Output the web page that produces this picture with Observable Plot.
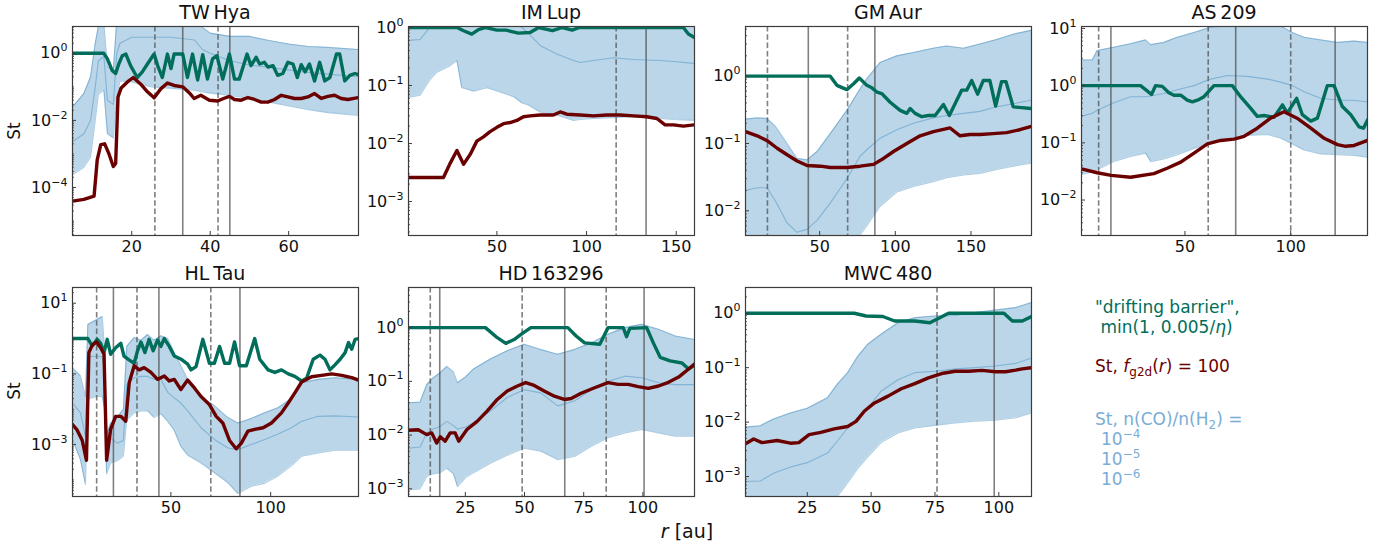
<!DOCTYPE html>
<html><head><meta charset="utf-8">
<script src="https://cdn.jsdelivr.net/npm/d3@7"></script>
<script src="https://cdn.jsdelivr.net/npm/@observablehq/plot@0.6"></script>
<style>
html,body{margin:0;padding:0;background:#fff;}
#root{position:relative;width:1389px;height:549px;overflow:hidden;background:#fff;font-family:"DejaVu Sans",sans-serif;}
</style></head><body><div id="root"></div>
<script>
// ---------- names ----------
const diskNames = ["TW\u2009Hya", "IM\u2009Lup", "GM\u2009Aur", "AS\u2009209", "HL\u2009Tau", "HD\u2009163296", "MWC\u2009480"];

// ---------- TW Hya ----------
const twhyaXDomain = [4.9, 77.8];
const twhyaYDomain = [3.7e-6, 6.3];
const twhyaXTicks = [20, 40, 60];
const twhyaYTicks = [1e-4, 1e-2, 1];
const twhyaDashed = [25.9, 42];
const twhyaSolid = [33, 45];
const twhyaBand = [ // r, 1e-6, 1e-5, 1e-4
  [4.9, 2.4e-4, 0.0023, 0.025], [7.8, 4e-4, 0.004, 0.063], [9.5, 8e-4, 0.01, 0.2],
  [10.7, 0.01, 0.1, 2], [11.5, 0.06, 0.6, 6.3], [12.9, 0.08, 0.8, 8], [13.8, 0.004, 0.04, 0.4],
  [15.3, 0.003, 0.03, 0.3], [16.2, 0.05, 1, 10], [17, 0.15, 2, 10], [20, 0.14, 3, 10],
  [25, 0.1, 3, 10], [30, 0.09, 3, 10], [36, 0.08, 2.5, 10], [38, 0.07, 1.3, 6], [40, 0.065, 1, 4],
  [45, 0.055, 0.6, 3.2], [50, 0.045, 0.45, 3.2], [55, 0.035, 0.38, 2.4], [60, 0.027, 0.32, 1.9],
  [65, 0.021, 0.27, 1.6], [70, 0.017, 0.24, 1.5], [77.8, 0.014, 0.2, 1.3]
];
const twhyaTeal = [[4.9,1],[12.9,1],[13.8,0.68],[15,0.31],[15.9,0.25],[16.7,0.48],[17.6,0.85],[18.5,0.95],[19.7,0.43],[21.4,0.19],[22.7,0.28],[24,0.48],[25.7,0.95],[26.6,0.43],[27.8,0.19],[29.1,0.95],[30,0.35],[30.8,0.95],[33,0.95],[34.2,0.19],[35.5,0.95],[36.8,0.16],[38.1,0.91],[39.3,0.17],[40.6,0.68],[41.7,0.85],[43.2,0.17],[44.9,0.95],[46.2,0.17],[47.4,0.17],[49.4,0.95],[50.4,0.43],[51.7,0.76],[52.6,0.48],[53.8,0.54],[54.7,0.39],[56,0.43],[57.2,0.22],[58.5,0.25],[59.8,0.54],[61.1,0.48],[62.2,0.19],[63.2,0.46],[64.2,0.28],[65.3,0.48],[66.6,0.15],[67.9,0.54],[69.2,0.15],[70.5,0.19],[72.2,0.95],[73,0.95],[74.3,0.15],[75.6,0.22],[76.9,0.25],[77.8,0.23]];
const twhyaRed = [[4.9,3.9e-5],[7.8,4.4e-5],[10.4,5.5e-5],[11.2,6.6e-4],[12.1,1.9e-3],[13.1,2.0e-3],[14.2,1.0e-3],[15.3,4.2e-4],[15.9,5.2e-4],[16.5,0.05],[17.3,0.093],[18.9,0.14],[20.4,0.19],[22.3,0.12],[24,0.071],[25.7,0.047],[27.4,0.087],[29.1,0.13],[30.8,0.11],[33,0.10],[34.7,0.066],[35.9,0.045],[37.6,0.056],[39.8,0.04],[41.9,0.038],[43.4,0.045],[44.9,0.052],[46.2,0.042],[47.9,0.04],[49.6,0.048],[51.3,0.042],[53,0.035],[54.7,0.035],[56.4,0.042],[58.1,0.056],[59.8,0.05],[61.5,0.045],[63.2,0.045],[64.9,0.05],[66.6,0.063],[68.3,0.045],[70,0.052],[71.7,0.056],[73.4,0.045],[75.1,0.042],[77.8,0.048]];

// ---------- IM Lup ----------
const imlupXDomain = [0.7, 160.2];
const imlupYDomain = [2.6e-4, 1.04];
const imlupXTicks = [50, 100, 150];
const imlupYTicks = [1e-3, 1e-2, 1e-1, 1];
const imlupDashed = [116.5];
const imlupSolid = [133.2];
const imlupBand = [
  [0.7, 0.062, 0.6, 2], [7.2, 0.068, 0.62, 2], [11.3, 0.11, 0.9, 2], [14, 0.14, 1.2, 2.5],
  [16.5, 0.17, 1.4, 3], [24, 0.22, 1.5, 3], [27.7, 0.27, 1.5, 3], [30.4, 0.092, 1.5, 3],
  [37, 0.08, 1.5, 3], [44.4, 0.092, 1.5, 3], [51.8, 0.077, 1.4, 3], [59.3, 0.064, 1.2, 3],
  [64, 0.05, 1.0, 3], [67.5, 0.046, 0.8, 3], [74.1, 0.035, 0.49, 3], [83.4, 0.031, 0.35, 3],
  [92.7, 0.025, 0.27, 3], [96.4, 0.026, 0.25, 3], [103.9, 0.027, 0.27, 3], [115, 0.028, 0.3, 3],
  [126, 0.029, 0.28, 3], [141, 0.027, 0.27, 3], [148.5, 0.026, 0.26, 3], [160.2, 0.025, 0.24, 3]
];
const imlupTeal = [[0.7,1],[27.7,1],[31.4,0.88],[36,0.77],[39.7,0.92],[43.8,1],[50,0.9],[55,0.9],[62,0.8],[68.5,0.82],[73.3,1],[81,0.88],[86.5,1],[92,0.9],[96,1],[154,1],[156.8,0.77],[160.2,0.67]];
const imlupRed = [[0.7,0.0026],[20.2,0.0026],[24,0.0046],[27.7,0.0076],[31.4,0.0044],[35.1,0.0065],[38.8,0.011],[42.5,0.013],[46.2,0.016],[50,0.019],[53.7,0.022],[57.4,0.023],[61.1,0.025],[64.8,0.029],[68.5,0.030],[74.1,0.031],[81.5,0.031],[85.3,0.035],[89,0.032],[96.4,0.031],[103.9,0.030],[111.3,0.031],[118.7,0.031],[126.2,0.030],[133.6,0.029],[139.2,0.027],[143.8,0.021],[148.5,0.021],[154,0.020],[160.2,0.021]];

// ---------- GM Aur ----------
const gmaurXDomain = [1, 190];
const gmaurYDomain = [4.3e-3, 5.46];
const gmaurXTicks = [50, 100, 150];
const gmaurYTicks = [1e-2, 1e-1, 1];
const gmaurDashed = [15.5, 68.5];
const gmaurSolid = [42.5, 86.5];
const gmaurBand = [
  [1, 0.001, 0.02, 0.23], [8.7, 0.001, 0.022, 0.24], [15.3, 0.001, 0.022, 0.235], [20.8, 0.001, 0.014, 0.18],
  [28.5, 0.001, 0.0066, 0.1], [35, 0.001, 0.0048, 0.06], [41.7, 0.001, 0.0053, 0.057], [48.3, 0.001, 0.0072, 0.076],
  [57, 0.0012, 0.013, 0.14], [68, 0.0025, 0.03, 0.31], [76.8, 0.0044, 0.065, 0.65], [81, 0.0059, 0.08, 0.9],
  [90, 0.0117, 0.12, 1.6], [101, 0.019, 0.16, 2.0], [112, 0.023, 0.2, 2.25], [125, 0.027, 0.24, 2.6],
  [134, 0.031, 0.26, 2.8], [145, 0.034, 0.28, 2.6], [156, 0.036, 0.3, 3.0], [167, 0.041, 0.35, 3.5],
  [178, 0.046, 0.39, 4.2], [190, 0.051, 0.44, 4.8]
];
const gmaurTeal = [[1,1],[57,1],[61.4,0.73],[68,0.63],[72.4,0.77],[76.2,0.94],[81.2,0.73],[84.5,0.67],[87.8,0.58],[91.1,0.55],[96.6,0.41],[103.2,0.31],[107.6,0.28],[109.8,0.33],[113.1,0.28],[117.5,0.25],[121.9,0.26],[126.3,0.26],[131.8,0.38],[135.7,0.26],[140.6,0.44],[143.9,0.62],[147.2,0.62],[150.5,0.86],[154.4,0.54],[158.1,0.86],[162.5,0.86],[166.3,0.36],[170.2,0.83],[173.1,0.83],[177.9,0.35],[190,0.33]];
const gmaurRed = [[1,0.15],[8.7,0.13],[15.3,0.11],[21.9,0.085],[28.5,0.068],[35.1,0.055],[41.7,0.047],[50.5,0.046],[57,0.044],[68,0.044],[76.8,0.046],[85.6,0.049],[92.2,0.06],[98.8,0.076],[107.6,0.1],[116.4,0.13],[125.2,0.15],[136.2,0.17],[142.8,0.13],[149.4,0.136],[156,0.136],[164.7,0.14],[173.5,0.145],[182.3,0.16],[190,0.18]];

// ---------- AS 209 ----------
const as209XDomain = [1.1, 136.3];
const as209YDomain = [2.4e-3, 10.8];
const as209XTicks = [50, 100];
const as209YTicks = [1e-2, 1e-1, 1, 10];
const as209Dashed = [9.2, 61, 100];
const as209Solid = [15, 74, 121];
const as209Band = [
  [1.1, 0.028, 0.29, 2.8], [6.2, 0.031, 0.33, 2.8], [8.5, 0.034, 0.37, 4.1], [16.4, 0.047, 0.5, 4.7],
  [24.3, 0.058, 0.64, 5.4], [31.4, 0.066, 0.64, 6.3], [33.8, 0.047, 0.66, 5.2], [40, 0.052, 0.73, 5.7],
  [46.4, 0.062, 0.85, 7], [54.3, 0.08, 1.0, 8.5], [62.1, 0.1, 1.3, 10.5], [70, 0.115, 1.5, 11],
  [79.5, 0.135, 1.45, 11], [89, 0.14, 1.3, 11], [95.3, 0.12, 1.15, 11], [100.8, 0.095, 1.0, 8.5],
  [106.3, 0.075, 0.78, 7], [114.2, 0.064, 0.6, 6.3], [122.1, 0.062, 0.56, 5.7], [130, 0.06, 0.55, 6],
  [136.3, 0.056, 0.52, 5.7]
];
const as209Teal = [[1.1,1],[29,1],[31.4,0.85],[34.2,0.7],[36.1,1],[39.3,0.97],[42.4,0.75],[44.8,0.68],[48,0.68],[51.1,0.56],[53.5,0.52],[56.6,0.57],[59,0.64],[63.7,1],[72.4,1],[76.3,0.64],[81.1,0.4],[84.2,0.29],[87.4,0.3],[92.1,0.28],[96.1,0.46],[98.4,0.33],[102.8,0.6],[105.5,0.31],[109.5,0.24],[112.6,0.27],[117.3,1],[120.5,1],[124.4,0.43],[128.4,0.31],[132.3,0.19],[134.4,0.18],[136.3,0.25]];
const as209Red = [[1.1,0.035],[8.5,0.03],[15.1,0.027],[24.3,0.025],[35.3,0.029],[41.6,0.036],[48,0.046],[54.3,0.066],[60.6,0.096],[66.9,0.11],[73.2,0.116],[78,0.13],[84.2,0.18],[90.5,0.27],[96.8,0.35],[103,0.27],[109.5,0.18],[115.8,0.12],[122.1,0.093],[126,0.087],[130,0.09],[133.2,0.1],[136.3,0.11]];

// ---------- HL Tau ----------
const hltauXDomain = [0.7, 144];
const hltauYDomain = [3.4e-5, 27.8];
const hltauXTicks = [50, 100];
const hltauYTicks = [1e-3, 1e-1, 10];
const hltauDashed = [12.8, 33, 70];
const hltauSolid = [21.2, 44, 84.6];
const hltauBand = [
  [0.7, 0.0014, 0.015, 0.15], [4.7, 3.7e-4, 0.0079, 0.088], [7.2, 7.4e-5, 0.0017, 0.023],
  [8.4, 0.02, 0.3, 2.5], [13.1, 0.023, 0.32, 3.5], [15.6, 0.023, 0.3, 4.2], [16.8, 0.01, 0.1, 0.5],
  [17.8, 1.5e-4, 5e-4, 0.002], [19.8, 3e-4, 0.0015, 0.004], [23.2, 3.5e-4, 0.0011, 0.006],
  [26.2, 4.7e-4, 0.0013, 0.01], [27.9, 0.005, 0.05, 0.6], [31.6, 0.0079, 0.078, 1.07],
  [35, 0.009, 0.085, 0.9], [38.3, 0.009, 0.085, 1.3], [41.6, 0.0058, 0.07, 0.9], [45, 0.0075, 0.07, 1.2],
  [48.4, 0.0045, 0.03, 1.0], [51.7, 0.0025, 0.021, 0.4], [55, 8.9e-4, 0.015, 0.17], [58.4, 5e-4, 0.009, 0.07],
  [65.1, 3e-4, 0.003, 0.023], [71.8, 1.6e-4, 0.0014, 0.0126], [78.6, 8.3e-5, 8e-4, 0.0058],
  [83.6, 4.1e-5, 7.2e-4, 0.0041], [90.3, 6.6e-5, 0.001, 0.0055], [97, 8e-5, 0.0014, 0.0079],
  [103.7, 1.3e-4, 0.002, 0.011], [110.4, 2.5e-4, 0.003, 0.02], [115.5, 4.7e-4, 0.0046, 0.056],
  [123.9, 5.8e-4, 0.0063, 0.07], [132.2, 6.9e-4, 0.0065, 0.078], [144, 6.9e-4, 0.006, 0.07]
];
const hltauTeal = [[0.7,1],[8.4,1],[10.6,0.62],[13.1,0.95],[14.8,0.73],[16.5,0.4],[18.1,0.95],[19.8,0.36],[22.3,0.55],[24.9,0.73],[26.5,0.32],[29,0.25],[31.6,0.2],[33.3,0.45],[35,0.8],[37,0.4],[39.1,0.95],[41.1,0.45],[43.3,0.9],[45,0.6],[46.7,1.0],[49.2,0.6],[51.7,0.32],[55.1,0.26],[58.4,0.19],[60.1,0.13],[62.6,0.16],[66,0.95],[69.3,0.2],[71.8,0.2],[74.4,0.6],[76.9,0.2],[79.4,0.2],[81.9,0.8],[84.4,0.17],[87.8,0.17],[92,1.0],[94.5,0.26],[98.7,0.13],[102.1,0.11],[105.4,0.13],[108.8,0.1],[112.1,0.085],[115.5,0.063],[118,0.075],[121.3,0.26],[124.7,0.34],[127.2,0.26],[129.7,0.13],[132.2,0.18],[134.8,0.26],[137.3,0.4],[139,0.77],[140.6,0.5],[142.3,0.95],[144,1.0]];
const hltauRed = [[0.7,0.0037],[3,0.0026],[5.6,0.0013],[7.7,3.6e-4],[8.9,0.4],[10.6,0.65],[12.8,0.8],[14.8,0.55],[16.5,0.36],[17.8,3.6e-4],[19.8,0.0027],[22.3,0.0063],[24.9,0.0063],[27.4,0.0046],[29.1,0.056],[31.6,0.17],[34.1,0.13],[36.6,0.15],[40,0.11],[43.3,0.07],[46.7,0.087],[49.2,0.063],[51.7,0.07],[55,0.036],[58.4,0.067],[61.8,0.04],[65.1,0.023],[69.3,0.0135],[72.7,0.0063],[76,0.0041],[79.4,0.0013],[82.7,7.6e-4],[85.3,0.0011],[88.6,0.0024],[92,0.0027],[96.2,0.003],[100.4,0.0041],[105.4,0.0079],[108.8,0.015],[112.1,0.029],[115.5,0.059],[120.5,0.083],[125.5,0.091],[130.6,0.1],[135.6,0.091],[140.6,0.078],[144,0.067]];

// ---------- HD 163296 ----------
const hdXDomain = [1, 121.8];
const hdYDomain = [7.2e-4, 5.58];
const hdXTicks = [25, 50, 75, 100];
const hdYTicks = [1e-3, 1e-2, 1e-1, 1];
const hdDashed = [10.2, 49, 84.5];
const hdSolid = [14.2, 67, 100.5];
const hdBand = [
  [1, 9.5e-4, 0.0057, 0.04], [5.9, 0.001, 0.006, 0.041], [8.7, 0.0017, 0.011, 0.087], [11.5, 0.0019, 0.013, 0.117],
  [14.4, 0.002, 0.0145, 0.145], [17.2, 0.0024, 0.018, 0.19], [20, 0.0019, 0.015, 0.15], [21.7, 0.0011, 0.013, 0.094],
  [25, 0.0016, 0.014, 0.12], [28.5, 0.002, 0.017, 0.17], [35.6, 0.003, 0.028, 0.26], [42.7, 0.0042, 0.05, 0.37],
  [49.8, 0.0057, 0.07, 0.49], [56.9, 0.005, 0.061, 0.39], [64, 0.0035, 0.035, 0.32], [71.1, 0.004, 0.043, 0.39],
  [78.2, 0.0062, 0.07, 0.52], [85.3, 0.0089, 0.1, 0.75], [92.4, 0.011, 0.125, 1.0], [99.5, 0.0127, 0.117, 1.15],
  [106.6, 0.011, 0.094, 0.93], [113.7, 0.0095, 0.087, 0.7], [121.8, 0.0095, 0.087, 0.6]
];
const hdTeal = [[1,1],[33.5,1],[38.5,0.65],[42.1,0.51],[45.6,0.6],[49.1,0.78],[52.7,1],[68.3,1],[71.8,0.7],[75.4,0.52],[81.8,0.49],[85.3,1],[91.7,1],[93.1,0.68],[94.5,0.97],[101.6,1],[104.4,0.52],[107.3,0.28],[111.5,0.24],[116.5,0.22],[119.3,0.17],[121.8,0.2]];
const hdRed = [[1,0.0123],[5.1,0.0126],[8.7,0.0102],[10.8,0.011],[12.9,0.0071],[14.4,0.0093],[16.5,0.0077],[18.6,0.011],[20.7,0.011],[22.2,0.0077],[25.7,0.0127],[30,0.018],[34.2,0.028],[38.5,0.046],[42.7,0.066],[47,0.082],[50.5,0.095],[54.1,0.084],[58.3,0.066],[62.6,0.053],[66.8,0.046],[69.7,0.048],[73.9,0.06],[79.6,0.076],[85.3,0.095],[89.5,0.088],[93.8,0.088],[98,0.08],[102.3,0.074],[106.6,0.082],[110.8,0.096],[115.1,0.12],[119.3,0.17],[121.8,0.21]];

// ---------- MWC 480 ----------
const mwcXDomain = [0.8, 112.8];
const mwcYDomain = [4.3e-4, 2.97];
const mwcXTicks = [25, 50, 75, 100];
const mwcYTicks = [1e-3, 1e-2, 1e-1, 1];
const mwcDashed = [75.8];
const mwcSolid = [98.2];
const mwcBand = [
  [0.8, 1e-4, 8.1e-4, 0.0081], [6.6, 1e-4, 8.3e-4, 0.0086], [11.8, 1e-4, 0.00115, 0.0114], [18.4, 1e-4, 0.0015, 0.0147],
  [25, 1e-4, 0.0018, 0.018], [32.9, 1.5e-4, 0.0027, 0.028], [36.8, 4.3e-4, 0.0045, 0.05], [40.8, 7.6e-4, 0.0078, 0.081],
  [44.7, 0.0014, 0.012, 0.16], [48.7, 0.0023, 0.018, 0.27], [53.9, 0.0042, 0.037, 0.41], [60.5, 0.0063, 0.06, 0.67],
  [67.1, 0.0078, 0.081, 0.83], [75, 0.0087, 0.086, 0.89], [82.9, 0.0096, 0.095, 0.91], [90.8, 0.0104, 0.1, 1.03],
  [98.7, 0.0108, 0.107, 1.15], [106.6, 0.012, 0.12, 1.27], [112.8, 0.0147, 0.15, 1.57]
];
const mwcTeal = [[0.8,1],[43.4,1],[48,0.89],[54.6,0.87],[59.2,0.72],[67.1,0.72],[73,0.67],[76.3,0.8],[80.3,1],[102,1],[105.3,0.72],[109.2,0.72],[112.8,0.87]];
const mwcRed = [[0.8,0.004],[4,0.0049],[7.2,0.0042],[13.2,0.0046],[18.4,0.0041],[21.7,0.0042],[25.7,0.0059],[30.3,0.0065],[35.5,0.0075],[40.8,0.0083],[44.1,0.0103],[47.4,0.016],[51.3,0.0225],[56.6,0.03],[61.8,0.041],[67.1,0.051],[72.4,0.065],[77.6,0.078],[82.9,0.086],[88.2,0.086],[93.4,0.089],[98.7,0.084],[102.6,0.084],[106.6,0.09],[109.2,0.095],[112.8,0.1]];

// ---------- legend texts ----------
const legendDrift = ["\"drifting barrier\",", " min(1, 0.005/"];
const legendCOexponents = ["\u22124", "\u22125", "\u22126"];

// ---------- styling / layout ----------
const TEAL = "#006e5a", RED = "#6b0000", BLUE = "#1f77b4", FRAME = "#3c3c3c", VLINE = "#4a4a4a", LB = "#7aadd5";

const W = 286, H = 209;
const panels = [
  {left: 72,   top: 26,  xDomain: twhyaXDomain, yDomain: twhyaYDomain, xTicks: twhyaXTicks, yTicks: twhyaYTicks, band: twhyaBand, teal: twhyaTeal, red: twhyaRed, dashed: twhyaDashed, solid: twhyaSolid},
  {left: 408,  top: 26,  xDomain: imlupXDomain, yDomain: imlupYDomain, xTicks: imlupXTicks, yTicks: imlupYTicks, band: imlupBand, teal: imlupTeal, red: imlupRed, dashed: imlupDashed, solid: imlupSolid},
  {left: 745,  top: 26,  xDomain: gmaurXDomain, yDomain: gmaurYDomain, xTicks: gmaurXTicks, yTicks: gmaurYTicks, band: gmaurBand, teal: gmaurTeal, red: gmaurRed, dashed: gmaurDashed, solid: gmaurSolid},
  {left: 1081, top: 26,  xDomain: as209XDomain, yDomain: as209YDomain, xTicks: as209XTicks, yTicks: as209YTicks, band: as209Band, teal: as209Teal, red: as209Red, dashed: as209Dashed, solid: as209Solid},
  {left: 72,   top: 287, xDomain: hltauXDomain, yDomain: hltauYDomain, xTicks: hltauXTicks, yTicks: hltauYTicks, band: hltauBand, teal: hltauTeal, red: hltauRed, dashed: hltauDashed, solid: hltauSolid},
  {left: 408,  top: 287, xDomain: hdXDomain, yDomain: hdYDomain, xTicks: hdXTicks, yTicks: hdYTicks, band: hdBand, teal: hdTeal, red: hdRed, dashed: hdDashed, solid: hdSolid},
  {left: 745,  top: 287, xDomain: mwcXDomain, yDomain: mwcYDomain, xTicks: mwcXTicks, yTicks: mwcYTicks, band: mwcBand, teal: mwcTeal, red: mwcRed, dashed: mwcDashed, solid: mwcSolid}
];

const root = document.getElementById("root");
const ml = 62, mr = 8, mt = 8, mb = 34;

// writes "10" followed by a raised, smaller exponent (matplotlib mathtext style)
function powerLabel(sel, exp, baseSize) {
  sel.append("tspan").text("10");
  sel.append("tspan").attr("font-size", Math.round(baseSize * 0.7)).attr("dy", -Math.round(baseSize * 0.42)).text(exp);
}

panels.forEach(p => {
  const minor = d3.scaleLog().domain(p.yDomain).ticks().filter(v => !p.yTicks.some(t => Math.abs(t - v) / v < 1e-6));
  const svg = Plot.plot({
    width: ml + W + mr, height: mt + H + mb,
    marginLeft: ml, marginRight: mr, marginTop: mt, marginBottom: mb,
    style: {fontFamily: "'DejaVu Sans', sans-serif", fontSize: "16px", color: "#111", background: "transparent", overflow: "visible"},
    x: {domain: p.xDomain},
    y: {type: "log", domain: p.yDomain},
    marks: [
      Plot.areaY(p.band, {x: d => d[0], y1: d => d[1], y2: d => d[3], fill: BLUE, fillOpacity: 0.3, clip: true}),
      Plot.line(p.band, {x: d => d[0], y: d => d[1], stroke: BLUE, strokeOpacity: 0.36, strokeWidth: 1.1, clip: true}),
      Plot.line(p.band, {x: d => d[0], y: d => d[2], stroke: BLUE, strokeOpacity: 0.36, strokeWidth: 1.1, clip: true}),
      Plot.line(p.band, {x: d => d[0], y: d => d[3], stroke: BLUE, strokeOpacity: 0.36, strokeWidth: 1.1, clip: true}),
      Plot.ruleX(p.dashed, {x: d => d, stroke: VLINE, strokeOpacity: 0.7, strokeWidth: 1.6, strokeDasharray: "5.5,2.8"}),
      Plot.ruleX(p.solid, {x: d => d, stroke: VLINE, strokeOpacity: 0.7, strokeWidth: 1.6}),
      Plot.line(p.teal, {x: d => d[0], y: d => d[1], stroke: TEAL, strokeWidth: 3.4, clip: true}),
      Plot.line(p.red, {x: d => d[0], y: d => d[1], stroke: RED, strokeWidth: 3.4, clip: true}),
      Plot.tickX(p.xTicks, {x: d => d, stroke: FRAME, strokeWidth: 1, insetTop: H - 4}),
      Plot.tickY(p.yTicks, {y: d => d, stroke: FRAME, strokeWidth: 1, insetRight: W - 4}),
      Plot.tickY(minor, {y: d => d, stroke: FRAME, strokeWidth: 0.8, insetRight: W - 2}),
      Plot.axisX({ticks: p.xTicks, tickSize: 0, tickPadding: 5, label: null, tickFormat: d => String(d)}),
      Plot.axisY({ticks: p.yTicks, tickSize: 0, tickPadding: 5, label: null, tickFormat: d => "10^" + String(Math.round(Math.log10(d))).replace("-", "\u2212")}),
      Plot.frame({stroke: FRAME, strokeWidth: 1.2})
    ]
  });
  // render y tick labels as 10 with superscript exponent
  d3.select(svg).selectAll('g[aria-label="y-axis tick label"] text').each(function () {
    const t = d3.select(this);
    const s = t.text();
    const exp = s.split("^")[1];
    t.text(null);
    powerLabel(t, exp, 16);
  });
  svg.style.position = "absolute";
  svg.style.left = (p.left - ml) + "px";
  svg.style.top = (p.top - mt) + "px";
  root.appendChild(svg);
});

// ---------- overlay text ----------
const ov = d3.select(root).append("svg")
  .attr("width", 1389).attr("height", 549)
  .style("position", "absolute").style("left", 0).style("top", 0)
  .style("font-family", "'DejaVu Sans', sans-serif").style("pointer-events", "none");

panels.forEach((p, i) => {
  ov.append("text").attr("x", p.left + W / 2).attr("y", p.top - 7)
    .attr("text-anchor", "middle").attr("font-size", 19).attr("fill", "#111").text(diskNames[i]);
});
[131, 391].forEach(cy => {
  ov.append("text").attr("transform", `translate(20,${cy}) rotate(-90)`)
    .attr("text-anchor", "middle").attr("font-size", 17).attr("fill", "#111").text("St");
});
const xl = ov.append("text").attr("x", 687).attr("y", 538).attr("text-anchor", "middle").attr("font-size", 19).attr("fill", "#111");
xl.append("tspan").attr("font-style", "italic").text("r");
xl.append("tspan").text(" [au]");

// legend
const lx = 1095;
ov.append("text").attr("x", lx).attr("y", 313).attr("font-size", 17).attr("fill", TEAL).text(legendDrift[0]);
const l2 = ov.append("text").attr("x", lx).attr("y", 333).attr("font-size", 17).attr("fill", TEAL).style("white-space", "pre");
l2.append("tspan").text(legendDrift[1]);
l2.append("tspan").attr("font-style", "italic").text("\u03B7");
l2.append("tspan").text(")");

const l3 = ov.append("text").attr("x", lx).attr("y", 372).attr("font-size", 17).attr("fill", RED).style("white-space", "pre");
l3.append("tspan").text("St, ");
l3.append("tspan").attr("font-style", "italic").text("f");
l3.append("tspan").attr("font-size", 12).attr("dy", 4).text("g2d");
l3.append("tspan").attr("dy", -4).text("(");
l3.append("tspan").attr("font-style", "italic").text("r");
l3.append("tspan").text(") = 100");

const l4 = ov.append("text").attr("x", lx).attr("y", 425).attr("font-size", 17).attr("fill", LB).style("white-space", "pre");
l4.append("tspan").text("St, n(CO)/n(H");
l4.append("tspan").attr("font-size", 12).attr("dy", 4).text("2");
l4.append("tspan").attr("dy", -4).text(") =");
legendCOexponents.forEach((e, i) => {
  const t = ov.append("text").attr("x", lx + 6).attr("y", 445 + 20 * i).attr("font-size", 17).attr("fill", LB);
  powerLabel(t, e, 17);
});
</script></body></html>
